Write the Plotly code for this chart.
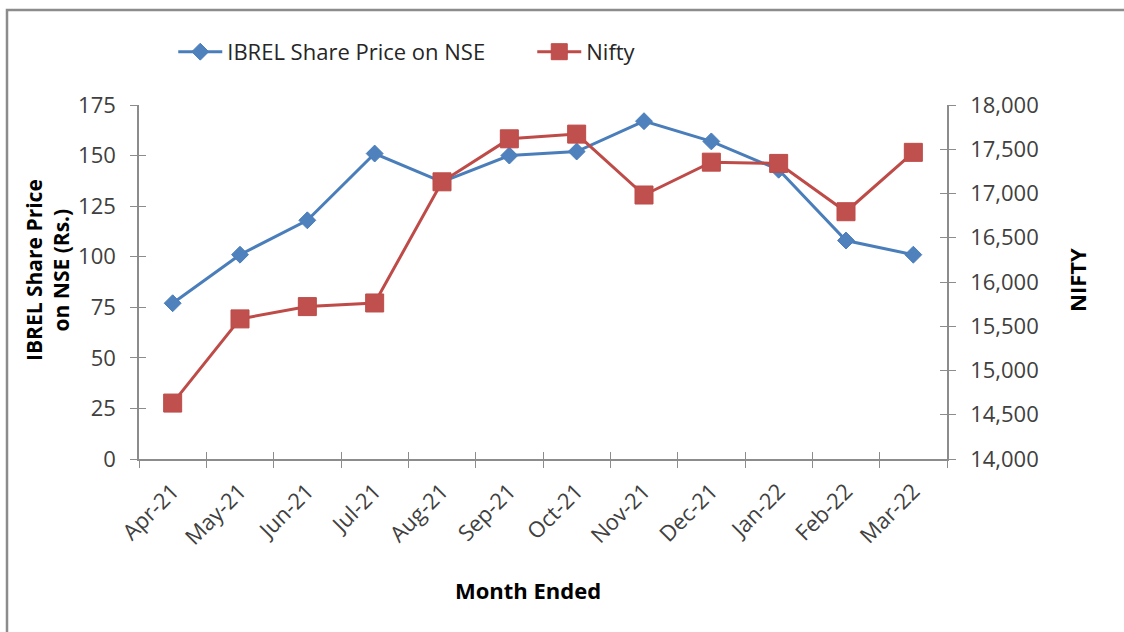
import plotly.graph_objects as go

months = ["Apr-21", "May-21", "Jun-21", "Jul-21", "Aug-21", "Sep-21",
          "Oct-21", "Nov-21", "Dec-21", "Jan-22", "Feb-22", "Mar-22"]
ibrel = [77, 101, 118, 151, 137, 150, 152, 167, 157, 143, 108, 101]
nifty = [14632, 15583, 15722, 15763, 17132, 17618, 17671, 16983, 17354, 17340, 16794, 17465]

left_ticks = [0, 25, 50, 75, 100, 125, 150, 175]
right_ticks = [14000, 14500, 15000, 15500, 16000, 16500, 17000, 17500, 18000]

FONT = "Open Sans, Noto Sans, sans-serif"
AX = "#8c8c8c"
TICKC = "#404040"

fig = go.Figure()
fig.add_trace(go.Scatter(
    x=months, y=ibrel, name="IBREL Share Price on NSE", mode="lines+markers",
    line=dict(color="#4A7EBB", width=3),
    marker=dict(symbol="diamond", size=13, color="#4F81BD", line=dict(color="#4A7EBB", width=1)),
    yaxis="y"))
fig.add_trace(go.Scatter(
    x=months, y=nifty, name="Nifty", mode="lines+markers",
    line=dict(color="#BE4B48", width=3),
    marker=dict(symbol="square", size=18, color="#C0504D", line=dict(color="#BE4B48", width=1)),
    yaxis="y2"))

# empty helper traces so the overlay axes (inner half of the crossing tick marks) get drawn
fig.add_trace(go.Scatter(x=[None], y=[None], xaxis="x2", yaxis="y3", showlegend=False,
                         hoverinfo="skip", mode="markers"))
fig.add_trace(go.Scatter(x=[None], y=[None], xaxis="x2", yaxis="y4", showlegend=False,
                         hoverinfo="skip", mode="markers"))

n = len(months)
boundaries = [i - 0.5 for i in range(n + 1)]

fig.update_layout(
    width=1124, height=632,
    margin=dict(l=139, r=177, t=105, b=173, autoexpand=False),
    paper_bgcolor="white", plot_bgcolor="white",
    font=dict(family=FONT, size=22, color=TICKC),
    showlegend=True,
    legend=dict(orientation="h", x=0.0424, y=1.15, xanchor="left", yanchor="middle",
                font=dict(size=22, color="#262626"), itemwidth=44, entrywidth=300,
                bgcolor="rgba(0,0,0,0)"),
    xaxis=dict(type="category", range=[-0.5, n - 0.5], tickson="boundaries",
               ticks="outside", ticklen=7,
               tickcolor=AX, showline=True, linecolor=AX, linewidth=1.5,
               tickangle=-45, showgrid=False, tickfont=dict(size=22, color=TICKC),
               ticklabelshift=0, ticklabelstandoff=9),
    xaxis2=dict(overlaying="x", anchor="y", range=[-0.5, n - 0.5], tickvals=boundaries,
                ticks="inside", ticklen=7, tickcolor=AX, showticklabels=False,
                showline=False, showgrid=False, zeroline=False, side="bottom"),
    yaxis=dict(range=[0, 175], tickvals=left_ticks, ticks="outside", ticklen=7,
               tickcolor=AX, showline=True, linecolor=AX, linewidth=1.5,
               showgrid=False, zeroline=False, ticklabelstandoff=10,
               tickfont=dict(size=22, color=TICKC)),
    yaxis2=dict(range=[14000, 18000], tickvals=right_ticks, overlaying="y", side="right",
                tickformat=",", ticks="outside", ticklen=7, tickcolor=AX,
                showline=True, linecolor=AX, linewidth=1.5, showgrid=False,
                zeroline=False, ticklabelstandoff=10,
                tickfont=dict(size=22, color=TICKC)),
    yaxis3=dict(range=[0, 175], tickvals=left_ticks, overlaying="y", anchor="x2", side="left",
                ticks="inside", ticklen=7, tickcolor=AX, showticklabels=False,
                showline=False, showgrid=False, zeroline=False),
    yaxis4=dict(range=[14000, 18000], tickvals=right_ticks, overlaying="y", anchor="x2",
                side="right", ticks="inside", ticklen=7, tickcolor=AX, showticklabels=False,
                showline=False, showgrid=False, zeroline=False),
)

# outer chart frame
fig.add_shape(type="rect", xref="paper", yref="paper",
              x0=(7 - 139) / 808, x1=(1200 - 139) / 808,
              y0=(459 - 700) / 354, y1=(459 - 10) / 354,
              line=dict(color="#8c8c8c", width=2.5), fillcolor="rgba(0,0,0,0)", layer="below")

# axis titles
fig.add_annotation(text="<b>IBREL Share Price<br>on NSE (Rs.)</b>", xref="paper", yref="paper",
                   x=(47 - 139) / 808, y=(459 - 270) / 354, textangle=-90, showarrow=False,
                   font=dict(size=21, color="#000000"), xanchor="center", yanchor="middle")
fig.add_annotation(text="<b>NIFTY</b>", xref="paper", yref="paper",
                   x=(1077 - 139) / 808, y=(459 - 280) / 354, textangle=-90, showarrow=False,
                   font=dict(size=22, color="#000000"), xanchor="center", yanchor="middle")
fig.add_annotation(text="<b>Month Ended</b>", xref="paper", yref="paper",
                   x=(528 - 139) / 808, y=(459 - 590) / 354, showarrow=False,
                   font=dict(size=22, color="#000000"), xanchor="center", yanchor="middle")

fig.write_html("out.html", config={"displayModeBar": False},
               post_script="document.body.style.margin='0';document.body.style.overflow='hidden';")
